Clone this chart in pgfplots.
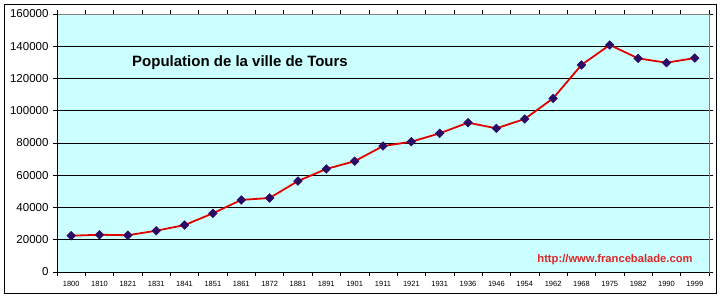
\documentclass[border=0pt]{standalone}
\usepackage{pgfplots}
\pgfplotsset{compat=1.18}
\usepackage{fontspec}
\setmainfont{Liberation Sans}
\definecolor{plotbg}{RGB}{204,255,255}
\definecolor{linered}{RGB}{225,0,0}
\definecolor{markblue}{RGB}{45,10,100}
\definecolor{urlred}{RGB}{220,40,40}
\begin{document}
\begin{tikzpicture}[x=1pt,y=1pt]
\useasboundingbox (0,0) rectangle (720,298);
\fill[white] (0,0) rectangle (720,298);
\draw[black,line width=0.8pt] (4,5) rectangle (716,294);
\begin{axis}[
  at={(57pt,26pt)}, anchor=south west,
  scale only axis, width=652pt, height=258pt,
  xmin=-0.5, xmax=22.5, ymin=0, ymax=160000,
  xtick={0,...,22},
  xticklabels={1800,1810,1821,1831,1841,1851,1861,1872,1881,1891,1901,1911,1921,1931,1936,1946,1954,1962,1968,1975,1982,1990,1999},
  minor xtick={-0.5,0.5,...,22.5},
  ytick={0,20000,40000,60000,80000,100000,120000,140000,160000},
  yticklabels={0,20000,40000,60000,80000,100000,120000,140000,160000},
  scaled y ticks=false,
  yticklabel style={font=\fontsize{11.5}{13}\selectfont, xshift=-1pt},
  xticklabel style={font=\fontsize{7.5}{9}\selectfont, yshift=-2pt},
  tick align=outside,
  x tick style={draw=none},
  minor x tick style={draw=black, line width=0.6pt},
  y tick style={draw=black, line width=0.6pt},
  major tick length=4pt, minor tick length=4pt,
  ymajorgrids, grid style={black, line width=0.7pt},
  axis background/.style={fill=plotbg},
  axis line style={draw=gray, line width=0.7pt},
  clip=false,
]
\addplot[linered, line width=1.8pt, mark=square*, mark size=3.1pt,
  mark options={fill=markblue, draw=markblue, line width=0.4pt, rotate=45}]
coordinates {
(0,22500) (1,23100) (2,22800) (3,25600) (4,29100) (5,36400) (6,44700)
(7,45900) (8,56400) (9,63900) (10,68700) (11,78100) (12,80800) (13,86000)
(14,92600) (15,89100) (16,94900) (17,107700) (18,128400) (19,140800)
(20,132500) (21,129800) (22,132700)
};
\draw[gray, line width=0.7pt] (rel axis cs:0,1) -- (rel axis cs:1,1) -- (rel axis cs:1,0);
\draw[black, line width=0.8pt] (rel axis cs:0,1) -- (rel axis cs:0,0) -- (rel axis cs:1,0);
\end{axis}
\node[font=\bfseries\fontsize{15}{17}\selectfont] at (240,235) {Population de la ville de Tours};
\node[font=\bfseries\fontsize{11.2}{13}\selectfont, text=urlred] at (615,38) {http://www.francebalade.com};
\end{tikzpicture}
\end{document}
